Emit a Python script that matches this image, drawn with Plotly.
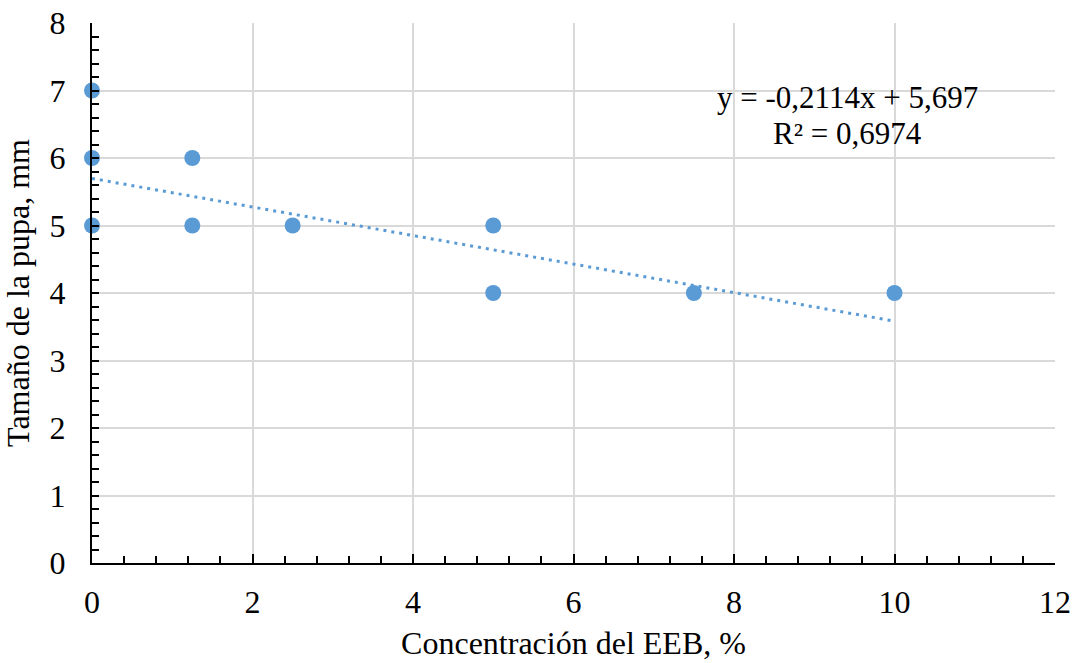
import plotly.graph_objects as go

# Data
conc = [0, 0, 0, 1.25, 1.25, 2.5, 5, 5, 7.5, 10]
pupa = [5, 6, 7, 5, 6, 5, 4, 5, 4, 4]
slope = -0.2114
intercept = 5.697
trend_x = [0, 10]
trend_y = [intercept + slope * v for v in trend_x]
eq_text = "y = -0,2114x + 5,697"
r2_text = "R² = 0,6974"

FONT = "Liberation Serif, Times New Roman, serif"
BLUE = "#5b9bd5"

fig = go.Figure()
fig.add_trace(go.Scatter(
    x=trend_x, y=trend_y, mode="lines",
    line=dict(color=BLUE, width=3, dash="3px,5px"),
    hoverinfo="skip", showlegend=False, cliponaxis=False,
))
fig.add_trace(go.Scatter(
    x=conc, y=pupa, mode="markers",
    marker=dict(color=BLUE, size=16),
    showlegend=False, cliponaxis=False,
))

fig.add_annotation(x=9.42, y=6.90, text=eq_text, showarrow=False,
                   font=dict(family=FONT, size=31, color="black"),
                   xanchor="center", yanchor="middle")
fig.add_annotation(x=9.42, y=6.36, text=r2_text, showarrow=False,
                   font=dict(family=FONT, size=31, color="black"),
                   xanchor="center", yanchor="middle")

axis_common = dict(
    showline=True, linecolor="black", linewidth=2,
    showgrid=True, gridcolor="#d9d9d9", gridwidth=1.5,
    zeroline=False, automargin=False,
    ticks="inside", tickcolor="black", tickwidth=2,
    tickfont=dict(family=FONT, size=32, color="black"),
)

fig.update_layout(
    width=1073, height=663,
    margin=dict(l=92, r=18, t=23, b=100),
    paper_bgcolor="white", plot_bgcolor="white",
    font=dict(family=FONT, size=32, color="black"),
    xaxis=dict(
        range=[0, 12], dtick=2, tick0=0, ticklen=9,
        title=dict(text="Concentración del EEB, %", standoff=12,
                   font=dict(family=FONT, size=32, color="black")),
        ticklabelstandoff=10,
        minor=dict(dtick=0.4, tick0=0, ticks="inside", ticklen=7,
                   tickcolor="black", tickwidth=1.5, showgrid=False),
        **axis_common,
    ),
    yaxis=dict(
        range=[0, 8], dtick=1, tick0=0, ticklen=7,
        title=dict(text="Tamaño de la pupa, mm", standoff=10,
                   font=dict(family=FONT, size=32, color="black")),
        ticklabelstandoff=18,
        minor=dict(dtick=0.2, tick0=0, ticks="inside", ticklen=7,
                   tickcolor="black", tickwidth=1.5, showgrid=False),
        **axis_common,
    ),
)

fig.write_html("out.html")
